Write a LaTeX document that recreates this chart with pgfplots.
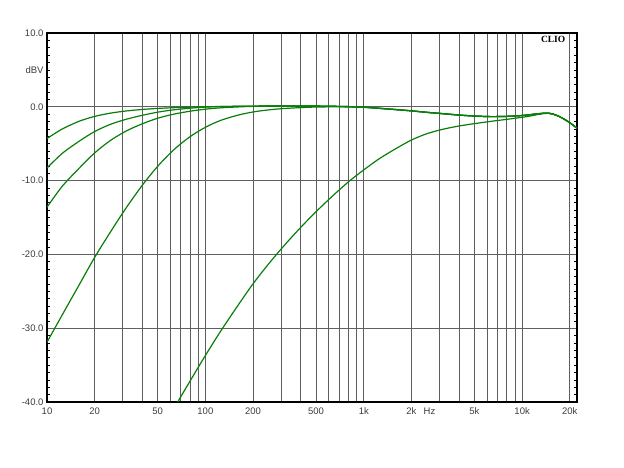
\documentclass[border=0pt]{standalone}
\usepackage{pgfplots}
\pgfplotsset{compat=1.18}
\usepackage{fontspec}
\setmainfont{Liberation Sans}
\newfontfamily\serifbold{Liberation Serif}
\definecolor{curve}{RGB}{10,125,10}
\definecolor{gridc}{RGB}{95,95,95}
\definecolor{labc}{RGB}{60,60,60}
\tikzset{mycurve/.style={curve, line width=1.2pt, smooth, mark=none}}
\begin{document}
\begin{tikzpicture}[x=1pt,y=1pt]
\path[use as bounding box] (-47,-66) rectangle (577,402);
\begin{axis}[
  at={(0,0)}, anchor=south west,
  scale only axis, width=530pt, height=369pt,
  xmode=log, xmin=10, xmax=22200, ymin=-40, ymax=10,
  log basis x=10,
  xtick={10,20,30,40,50,60,70,80,90,100,200,300,400,500,600,700,800,900,1000,2000,3000,4000,5000,6000,7000,8000,9000,10000,20000},
  xticklabels={10,20,,,50,,,,,100,200,,,500,,,,,1k,2k,,,5k,,,,,10k,20k},
  ytick={-40,-30,-20,-10,0,10},
  yticklabels={-40.0,-30.0,-20.0,-10.0,0.0,10.0},
  extra y ticks={5}, extra y tick labels={dBV},
  extra y tick style={grid=none, major tick length=0pt},
  extra x ticks={2600}, extra x tick labels={Hz},
  extra x tick style={grid=none, major tick length=0pt},
  minor y tick num=9,
  major tick length=0pt, minor tick length=3pt,
  tick align=inside, ytick pos=both, xtick pos=bottom,
  tick style={black, line width=0.6pt},
  grid=major,
  major grid style={gridc, line width=0.8pt},
  axis line style={black, line width=1.3pt},
  ticklabel style={font=\fontsize{9.5}{11}\selectfont, text=labc},
  xticklabel style={yshift=-2pt},
  /pgf/number format/assume math mode=true,
  clip=true,
]
% A
\addplot[mycurve] coordinates {
(10,-4.3) (12.5,-3.0) (16,-1.95) (20,-1.3) (25,-0.87) (31.5,-0.57) (40,-0.36) (50,-0.22) (63,-0.12) (80,-0.05) (100,0.0) (125,0.04) (160,0.07) (200,0.09) (250,0.1) (315,0.1) (400,0.1) (500,0.1)
(630,0.07) (800,0.03) (1000,-0.05) (1250,-0.2) (1600,-0.38) (2000,-0.55) (2500,-0.75) (3150,-0.93) (4000,-1.12) (5000,-1.25) (6300,-1.33) (8000,-1.3) (10000,-1.18) (11200,-1.07) (12500,-0.95) (14000,-0.86) (15000,-0.9) (16000,-1.05) (17000,-1.28) (18000,-1.55) (19000,-1.85) (20000,-2.15) (21000,-2.5) (22200,-2.9)};
% B
\addplot[mycurve] coordinates {
(10,-8.3) (12.5,-6.3) (16,-4.65) (20,-3.35) (25,-2.4) (31.5,-1.7) (40,-1.15) (50,-0.73) (63,-0.41) (80,-0.19) (100,-0.04) (125,0.03) (160,0.07) (200,0.09) (250,0.1) (315,0.1) (400,0.1) (500,0.1)
(630,0.07) (800,0.03) (1000,-0.05) (1250,-0.2) (1600,-0.38) (2000,-0.55) (2500,-0.75) (3150,-0.93) (4000,-1.12) (5000,-1.25) (6300,-1.33) (8000,-1.3) (10000,-1.18) (11200,-1.07) (12500,-0.95) (14000,-0.86) (15000,-0.9) (16000,-1.05) (17000,-1.28) (18000,-1.55) (19000,-1.85) (20000,-2.15) (21000,-2.5) (22200,-2.9)};
% C
\addplot[mycurve] coordinates {
(10,-13.6) (12.5,-10.75) (16,-8.3) (20,-6.25) (25,-4.6) (31.5,-3.3) (40,-2.3) (50,-1.55) (63,-1.0) (80,-0.6) (100,-0.32) (125,-0.14) (160,-0.02) (200,0.06) (250,0.1) (315,0.1) (400,0.1) (500,0.1)
(630,0.07) (800,0.03) (1000,-0.05) (1250,-0.2) (1600,-0.38) (2000,-0.55) (2500,-0.75) (3150,-0.93) (4000,-1.12) (5000,-1.25) (6300,-1.33) (8000,-1.3) (10000,-1.18) (11200,-1.07) (12500,-0.95) (14000,-0.86) (15000,-0.9) (16000,-1.05) (17000,-1.28) (18000,-1.55) (19000,-1.85) (20000,-2.15) (21000,-2.5) (22200,-2.9)};
% D
\addplot[mycurve] coordinates {
(10,-31.9) (12.5,-28.17) (16,-24.09) (20,-20.4) (25,-17.05) (31.5,-13.74) (40,-10.62) (50,-8.06) (63,-5.85) (80,-4.05) (100,-2.78) (125,-1.84) (160,-1.14) (200,-0.7) (250,-0.42) (315,-0.23) (400,-0.11) (500,-0.03)
(630,-0.01) (800,-0.02) (1000,-0.08) (1250,-0.21) (1600,-0.38) (2000,-0.55) (2500,-0.75) (3150,-0.93) (4000,-1.12) (5000,-1.25) (6300,-1.33) (8000,-1.3) (10000,-1.18) (11200,-1.07) (12500,-0.95) (14000,-0.86) (15000,-0.9) (16000,-1.05) (17000,-1.28) (18000,-1.55) (19000,-1.85) (20000,-2.15) (21000,-2.5) (22200,-2.9)};
% E
\addplot[mycurve] coordinates {
(56,-43.6) (63,-41.0) (80,-37.17) (100,-33.7) (125,-30.39) (160,-26.96) (200,-23.98) (250,-21.32) (315,-18.78) (400,-16.34) (500,-14.21) (630,-12.16) (800,-10.17) (1000,-8.55) (1250,-7.05) (1600,-5.65) (2000,-4.5) (2500,-3.65) (3150,-3.05) (4000,-2.6) (5000,-2.28) (6300,-1.98) (8000,-1.7) (10000,-1.42) (11200,-1.26) (12500,-1.05) (14000,-0.9) (15000,-0.91)
(16000,-1.05) (17000,-1.28) (18000,-1.55) (19000,-1.85) (20000,-2.15) (21000,-2.5) (22200,-2.9)};
\node[font=\serifbold\bfseries\fontsize{9.5}{11}\selectfont] at (rel axis cs:0.955,0.982) {CLIO};
\end{axis}
\end{tikzpicture}
\end{document}
